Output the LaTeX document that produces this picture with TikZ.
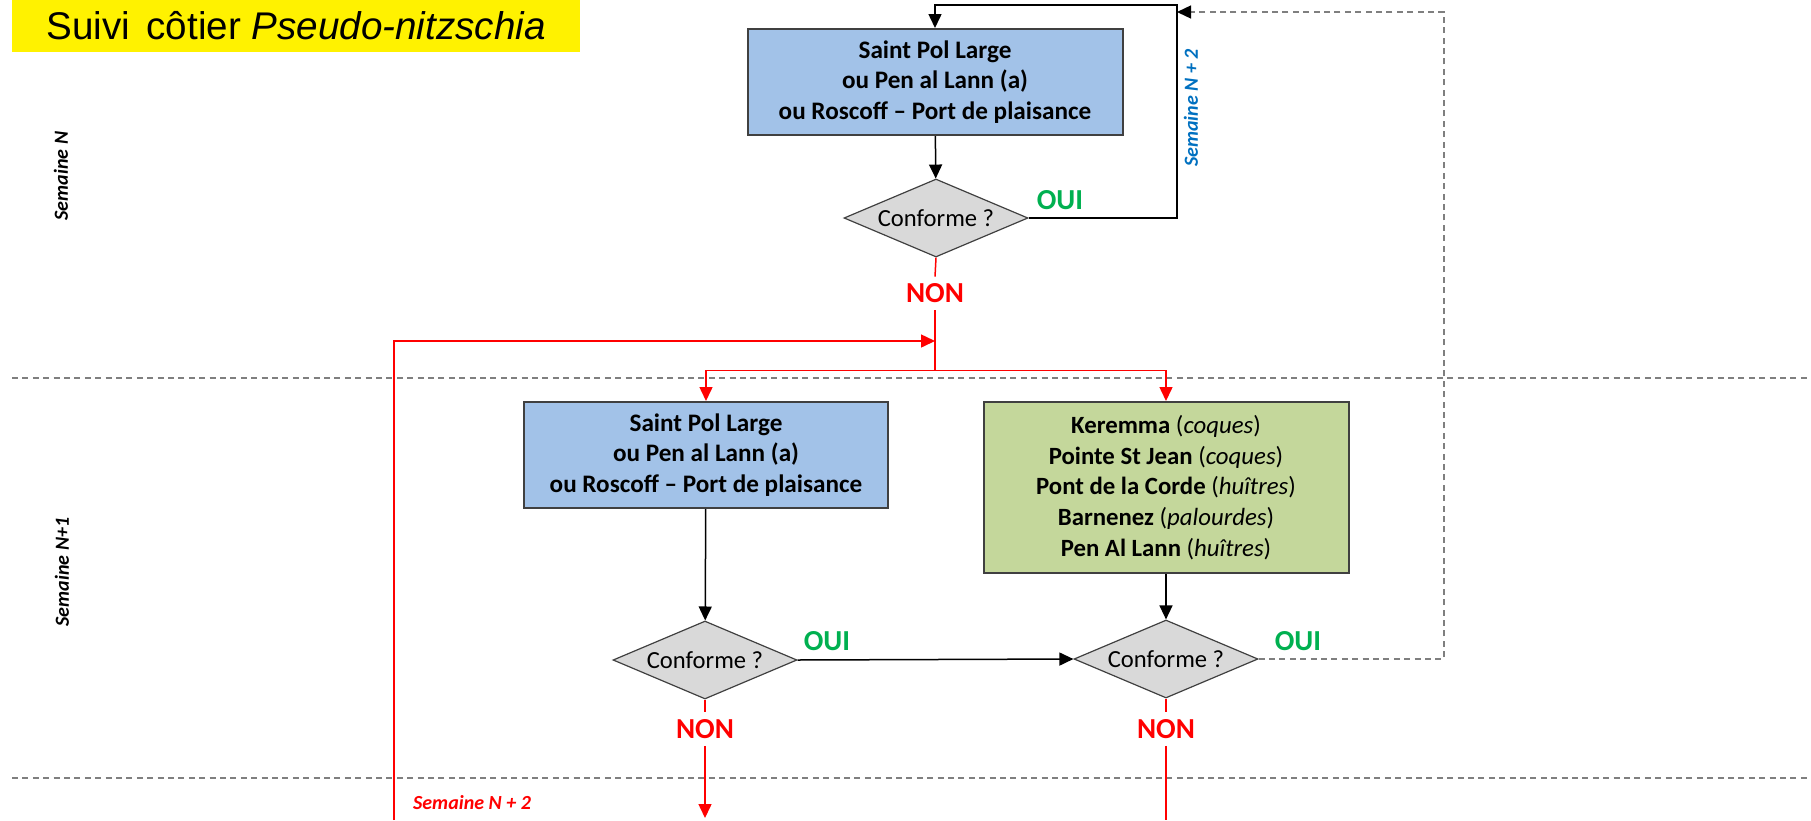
\documentclass[tikz,border=0pt]{standalone}
\usepackage{fontspec}
\setmainfont{Carlito}
\newfontfamily\arialfont{Liberation Sans}
\usetikzlibrary{shapes.geometric,arrows.meta}
\definecolor{boxblue}{HTML}{A2C2E8}
\definecolor{boxgreen}{HTML}{C4D79B}
\definecolor{diagray}{HTML}{D9D9D9}
\definecolor{edgegray}{HTML}{404040}
\definecolor{ouigreen}{HTML}{00B050}
\definecolor{semblue}{HTML}{0070C0}
\definecolor{dashgray}{HTML}{7F7F7F}

\begin{document}
\begin{tikzpicture}[x=0.5pt,y=-0.5pt,>={Triangle[width=6.5pt,length=7pt]},
    site/.style={draw=edgegray,line width=1pt,fill=boxblue,align=center,inner sep=0pt,
      minimum height=53pt,font=\fontsize{12.6}{15.4}\selectfont\bfseries},
    shellbox/.style={draw=edgegray,line width=1pt,fill=boxgreen,align=center,inner sep=0pt,
      minimum width=182.5pt,minimum height=85.5pt,font=\fontsize{12.4}{15.3}\selectfont},
    test/.style={diamond,aspect=2.37,draw=edgegray,line width=0.6pt,fill=diagray,inner sep=0pt,
      minimum width=92pt,minimum height=39pt,font=\fontsize{12.3}{14}\selectfont},
    oui/.style={text=ouigreen,font=\fontsize{14.5}{16}\selectfont\bfseries},
    non/.style={text=red,inner sep=0pt,minimum height=16.5pt,font=\fontsize{14.5}{16}\selectfont\bfseries},
    week/.style={font=\fontsize{10}{12}\selectfont\bfseries\itshape},
    flow/.style={->,line width=0.75pt},
    noflow/.style={->,red,line width=0.75pt},
    sepline/.style={dashgray,dashed,dash pattern=on 3pt off 2.2pt,line width=0.7pt}]
  \useasboundingbox (0,0) rectangle (1811,820);
  \node[fill=yellow,minimum width=284.25pt,minimum height=26pt,inner sep=0pt,
    font=\arialfont\fontsize{19.3}{22}\selectfont] (title) at (296,26) {Suivi\hspace{3pt} côtier \textit{Pseudo-nitzschia}};
  \draw[sepline] (12,378)--(1811,378);
  \draw[sepline] (12,778)--(1811,778);
  \node[week,rotate=90] (semN) at (61,176) {Semaine N};
  \node[week,rotate=90] (semN1) at (62,572) {Semaine N+1};
  \node[week,rotate=90,text=semblue] (semN2a) at (1191,108) {Semaine N + 2};
  \node[week,text=red] (semN2b) at (472,803) {Semaine N + 2};
  \node[site,minimum width=187.5pt] (site1) at (935,82) {Saint Pol Large\\ou Pen al Lann (a)\\ou Roscoff -- Port de plaisance};
  \node[test] (test1) at (936,218) {Conforme ?};
  \node[oui] (oui1) at (1060,200) {OUI};
  \node[non] (non1) at (935,293.5) {NON};
  \node[site,minimum width=182pt] (site2) at (706,455) {Saint Pol Large\\ou Pen al Lann (a)\\ou Roscoff -- Port de plaisance};
  \node[shellbox] (shell) at (1166,487.5) {\textbf{Keremma} (\textit{coques})\\\textbf{Pointe St Jean} (\textit{coques})\\
    \textbf{Pont de la Corde} (\textit{huîtres})\\\textbf{Barnenez} (\textit{palourdes})\\\textbf{Pen Al Lann} (\textit{huîtres})};
  \node[test] (test2) at (705,660) {Conforme ?};
  \node[test] (test3) at (1166,659) {Conforme ?};
  \node[oui] (oui2) at (827,641) {OUI};
  \node[oui] (oui3) at (1298,641) {OUI};
  \node[non] (non2) at (705,729) {NON};
  \node[non] (non3) at (1166,729) {NON};
  \coordinate (loopNE) at (1177,5);
  \coordinate (dashNE) at (1444,12);
  \coordinate (dashEnd) at (1177,12);
  \coordinate (join) at (935,341);
  \coordinate (split) at (935,370.5);
  \coordinate (lowL) at (394,820);
  \coordinate (end2) at (705,818);
  \coordinate (end3) at (1166,820);
  \draw[flow] (site1)--(test1);
  \draw[flow] (test1.east) -| (loopNE) -| (site1.north);
  \draw[-{Triangle[width=6.5pt,length=7pt,color=black]},sepline] (test3.east) -| (dashNE)--(dashEnd);
  \draw[red,line width=0.75pt] (test1.south)--(non1.north);
  \draw[red,line width=0.75pt] (non1.south)--(split);
  \draw[noflow] (lowL) |- (join);
  \draw[noflow] (split) -| (site2.north);
  \draw[noflow] (split) -| (shell.north);
  \draw[flow] (site2)--(test2);
  \draw[flow] (shell)--(test3);
  \draw[flow] (test2.east)--(test3.west);
  \draw[red,line width=0.75pt] (test2.south)--(non2.north);
  \draw[noflow] (non2.south)--(end2);
  \draw[red,line width=0.75pt] (test3.south)--(non3.north);
  \draw[red,line width=0.75pt] (non3.south)--(end3);
\end{tikzpicture}
\end{document}
